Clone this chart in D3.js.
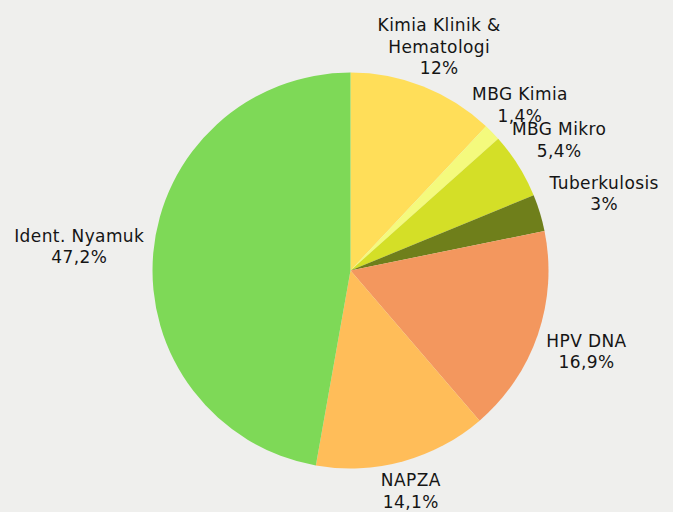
<!DOCTYPE html>
<html>
<head>
<meta charset="utf-8">
<script src="https://cdn.jsdelivr.net/npm/d3@7"></script>
<style>
  body { margin: 0; background: #efefed; }
  svg { display: block; }
</style>
</head>
<body>
<svg width="673" height="512"></svg>
<script>
// data (percent)
var labels = ["Kimia Klinik & Hematologi", "MBG Kimia", "MBG Mikro", "Tuberkulosis", "HPV DNA", "NAPZA", "Ident. Nyamuk"];
var labelLines = [["Kimia Klinik &", "Hematologi"], ["MBG Kimia"], ["MBG Mikro"], ["Tuberkulosis"], ["HPV DNA"], ["NAPZA"], ["Ident. Nyamuk"]];
var values = [12, 1.4, 5.4, 3, 16.9, 14.1, 47.2];
var valueText = ["12%", "1,4%", "5,4%", "3%", "16,9%", "14,1%", "47,2%"];
var colors = ["#ffde59", "#f4fa7d", "#d4df27", "#6f7f1b", "#f3975e", "#ffbd59", "#7ed957"];

var svg = d3.select("svg");
var cx = 350.5, cy = 270.5, radius = 198;
var lineH = 21.5;

svg.append("rect").attr("width", 673).attr("height", 512).attr("fill", "#efefed");

var g = svg.append("g").attr("transform", "translate(" + cx + "," + cy + ")");

var pie = d3.pie().sort(null).value(function(d) { return d; });
var arc = d3.arc().innerRadius(0).outerRadius(radius);
var arcs = pie(values);

g.selectAll(".slice")
  .data(arcs)
  .enter().append("path")
  .attr("class", "slice")
  .attr("d", arc)
  .attr("fill", function(d, i) { return colors[i]; });

// labels sit on the slice's mid-angle ray, box edge a few px off the rim
var labelG = g.selectAll(".lbl")
  .data(arcs)
  .enter().append("g")
  .attr("class", "lbl");

labelG.each(function(d, i) {
  var t = d3.select(this).append("text")
    .attr("text-anchor", "middle")
    .attr("font-family", "'DejaVu Sans', sans-serif")
    .attr("font-size", "17px")
    .attr("letter-spacing", "0.4px")
    .attr("fill", "#151515");
  var lines = labelLines[i].concat([valueText[i]]);
  lines.forEach(function(s, k) {
    t.append("tspan").attr("x", 0).attr("y", k * lineH).text(s);
  });
  var bb = this.getBBox();
  var a = (d.startAngle + d.endAngle) / 2;
  var s = Math.abs(Math.sin(a)) || 1e-6, c = Math.abs(Math.cos(a)) || 1e-6;
  var ext = Math.min(bb.width / 2 / s, bb.height / 2 / c);
  var dist = radius + 9 + ext;
  var bx = Math.sin(a) * dist;
  var by = -Math.cos(a) * dist;
  var dx = bx - (bb.x + bb.width / 2);
  var dy = by - (bb.y + bb.height / 2);
  d3.select(this).attr("transform", "translate(" + dx + "," + dy + ")");
});
</script>
</body>
</html>
